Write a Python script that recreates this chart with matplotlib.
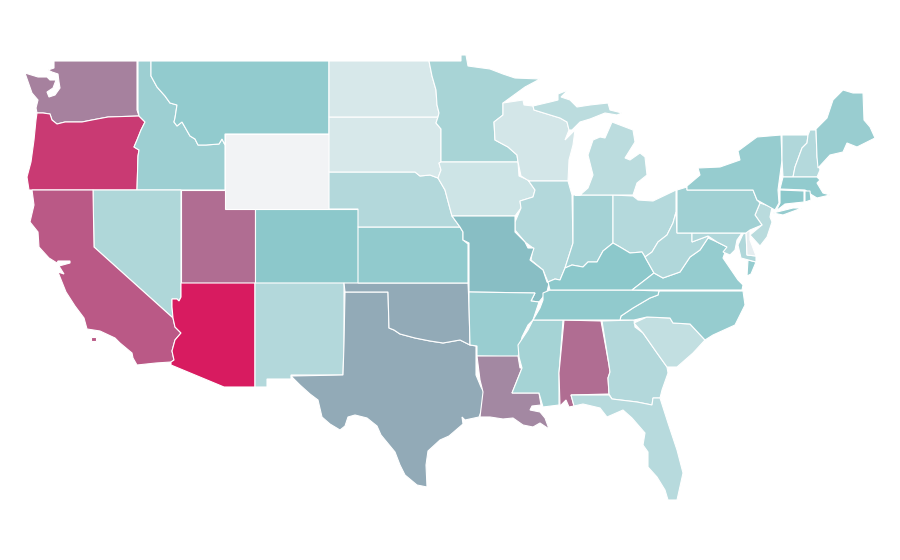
import matplotlib
matplotlib.use('Agg')
import matplotlib.pyplot as plt
from matplotlib.colors import LinearSegmentedColormap, Normalize
from matplotlib.patches import Polygon

# state outlines, in map units
WA = [(54,61),(137,61),(137,110),(139,116),(108,117),(92,120),(82,122),(65,122),(57,124),(52,120),(50,114),(43,113),(37,113),(36,108),(38,100),(32,93),(25,73),(38,77),(47,77),(50,80),(56,80),(53,88),(47,92),(49,97),(55,95),(60,88),(59,82),(58,74),(52,72),(48,70),(54,68)]
OR = [(37,113),(43,113),(50,114),(52,120),(57,124),(65,122),(82,122),(92,120),(108,117),(139,116),(145,122),(141,130),(137,140),(134,147),(139,150),(138,156),(137,190),(29,190),(27,177),(31,162),(34,140),(36,120)]
ID = [(138,61),(151,61),(151,76),(157,87),(165,96),(170,103),(177,105),(175,118),(174,122),(177,126),(182,122),(186,129),(190,136),(195,139),(198,145),(206,145),(219,144),(222,139),(225,145),(225,190),(137,190),(138,156),(139,150),(134,147),(137,140),(141,130),(145,122),(139,116),(138,110)]
MT = [(151,61),(329,61),(329,134),(225,134),(225,145),(222,139),(219,144),(206,145),(198,145),(195,139),(190,136),(186,129),(182,122),(177,126),(174,122),(175,118),(177,105),(170,103),(165,96),(157,87),(151,76)]
WY = [(225,134),(329,134),(329,209),(225,209)]
NV = [(93,190),(181,190),(181,297),(179,301),(177,299),(172,299),(172,307),(173,318),(94,247)]
CA = [(32,190),(93,190),(94,247),(173,318),(175,327),(181,333),(175,340),(172,351),(174,360),(171,362),(156,363),(137,365),(133,358),(132,353),(120,343),(115,338),(100,331),(87,329),(84,318),(75,306),(66,292),(58,272),(64,274),(59,266),(70,263),(70,261),(58,261),(57,263),(49,258),(39,247),(38,232),(30,222),(34,205)]
CA_ISLAND = [(91,337),(96,337),(96,341),(91,341)]
UT = [(181,190),(225,190),(225,209),(255,209),(255,283),(181,283)]
AZ = [(181,283),(255,283),(255,387),(224,387),(171,365),(171,362),(174,360),(172,351),(175,340),(181,333),(175,327),(173,318),(172,307),(172,299),(177,299),(179,301),(181,297)]
CO = [(255,209),(358,209),(358,283),(255,283)]
NM = [(255,283),(344,283),(344,344),(343,375),(291,375),(291,379),(267,379),(267,387),(255,387)]
TX = [(345,292),(388,292),(389,328),(394,330),(400,334),(415,338),(430,341),(443,343),(460,340),(470,345),(476,346),(476,375),(481,387),(484,392),(481,412),(479,417),(465,420),(462,417),(463,424),(449,436),(440,440),(428,451),(426,465),(427,487),(417,485),(405,475),(400,465),(395,452),(381,435),(377,426),(367,418),(355,415),(348,417),(345,426),(340,430),(330,424),(322,417),(318,400),(310,394),(300,385),(291,376),(343,375),(344,344)]
OK = [(344,283),(468,283),(469,305),(470,345),(460,340),(443,343),(430,341),(415,338),(400,334),(394,330),(389,328),(388,292),(345,292)]
KS = [(358,227),(460,227),(463,232),(463,240),(468,244),(468,283),(358,283)]
NE = [(329,172),(415,172),(420,176),(430,175),(438,178),(445,190),(449,205),(452,216),(460,227),(358,227),(358,209),(329,209)]
SD = [(329,117),(438,117),(436,123),(441,129),(441,162),(439,163),(441,170),(438,178),(430,175),(420,176),(415,172),(329,172)]
ND = [(329,61),(429,61),(432,76),(436,90),(437,105),(439,113),(438,117),(329,117)]
MN = [(429,61),(461,61),(461,55),(466,55),(468,66),(490,69),(503,74),(515,78),(540,79),(525,87),(503,103),(503,115),(494,122),(495,140),(508,147),(517,155),(518,162),(441,162),(441,129),(436,123),(438,117),(439,113),(437,105),(436,90),(432,76)]
IA = [(441,162),(518,162),(519,176),(528,180),(535,190),(533,197),(520,201),(521,208),(515,216),(452,216),(449,205),(445,190),(438,178),(441,170),(439,163)]
WI = [(503,103),(523,100),(524,105),(533,106),(534,110),(560,118),(567,122),(569,130),(565,140),(575,130),(573,145),(569,160),(568,181),(529,181),(521,176),(518,162),(517,155),(508,147),(495,140),(494,122),(503,115)]
IL = [(529,181),(568,181),(572,195),(573,243),(565,268),(560,280),(555,279),(548,282),(543,270),(531,260),(533,248),(525,242),(515,230),(515,222),(521,208),(520,201),(533,197),(535,190),(528,180)]
IN = [(573,195),(613,195),(613,243),(603,251),(597,262),(588,262),(583,267),(572,265),(565,268),(573,243)]
OH = [(613,195),(633,196),(638,200),(653,201),(676,190),(676,212),(673,223),(667,235),(658,242),(652,252),(645,257),(642,252),(630,253),(620,247),(613,243)]
MI = [(575,195),(633,195),(637,183),(647,175),(645,157),(640,153),(630,160),(625,158),(635,142),(633,130),(612,122),(605,138),(600,137),(593,140),(588,155),(593,175),(588,188),(580,195)]
MI_UPPER = [(533,106),(550,102),(558,100),(558,94),(568,90),(561,97),(570,100),(577,107),(590,105),(608,103),(610,110),(622,113),(617,115),(605,113),(590,119),(580,122),(572,130),(569,130),(567,122),(560,118),(534,110)]
MO = [(452,216),(515,216),(515,232),(525,242),(528,248),(534,248),(530,260),(543,270),(547,282),(549,283),(547,292),(539,302),(531,301),(535,293),(469,292),(469,243),(463,240),(463,232),(460,227)]
AR = [(469,292),(535,293),(531,301),(539,302),(533,320),(528,325),(522,337),(518,357),(477,356),(477,346),(470,345),(469,305)]
LA = [(477,356),(518,356),(520,368),(522,368),(512,393),(539,393),(541,405),(532,406),(530,410),(540,412),(545,418),(549,429),(540,423),(533,427),(523,425),(513,418),(503,419),(490,417),(480,417),(483,392),(480,380)]
MS = [(533,320),(563,320),(559,373),(559,405),(543,407),(539,393),(512,393),(522,368),(519,357),(518,345),(528,330)]
AL = [(564,320),(601,321),(609,365),(610,372),(608,378),(609,394),(571,395),(574,406),(569,407),(566,400),(560,406),(559,373)]
GA = [(602,321),(634,320),(635,327),(643,333),(657,353),(667,367),(668,373),(662,390),(660,398),(653,398),(652,405),(637,402),(612,399),(609,394),(608,378),(610,372),(609,365)]
FL = [(571,395),(609,395),(612,399),(637,402),(652,405),(653,398),(660,398),(668,423),(677,450),(683,473),(677,500),(668,500),(665,490),(657,477),(648,467),(648,452),(643,445),(645,433),(632,418),(623,410),(607,417),(600,408),(583,404),(574,406)]
SC = [(634,323),(647,317),(670,318),(673,323),(690,324),(705,340),(693,353),(677,367),(667,367),(657,353),(643,333)]
NC = [(659,291),(743,291),(745,305),(735,325),(713,335),(705,340),(690,324),(673,323),(670,318),(647,317),(634,320),(620,320),(621,316),(633,308),(650,298),(658,295)]
TN = [(543,293),(550,290),(632,290),(659,291),(658,295),(650,298),(633,308),(621,316),(620,320),(533,320),(540,308),(543,300)]
KY = [(632,290),(645,280),(654,273),(645,257),(642,252),(630,253),(620,247),(613,243),(603,251),(597,262),(588,262),(583,267),(572,265),(565,268),(560,280),(555,279),(548,282),(550,290)]
VA = [(632,290),(742,290),(743,285),(738,280),(723,258),(727,247),(717,242),(708,238),(700,250),(690,257),(680,272),(663,278),(654,273),(645,280)]
VA_EAST = [(748,260),(756,262),(751,274),(747,276)]
WV = [(676,212),(677,233),(692,233),(692,242),(708,236),(708,238),(700,250),(690,257),(680,272),(663,278),(654,273),(645,257),(652,252),(658,242),(667,235),(673,223)]
MD = [(692,233),(742,233),(737,240),(735,250),(730,255),(723,252),(727,247),(717,242),(708,236),(692,242)]
MD_EAST = [(743,234),(746,233),(747,255),(756,256),(756,262),(741,258),(738,245)]
DE = [(746,231),(750,231),(750,240),(756,256),(747,255)]
NJ = [(760,203),(772,207),(770,217),(772,222),(767,237),(760,246),(750,235),(762,225),(755,215)]
PA = [(677,190),(687,187),(687,190),(753,190),(757,200),(760,203),(755,215),(762,225),(750,230),(746,233),(677,233)]
NY = [(687,186),(700,175),(698,168),(720,167),(740,160),(738,151),(757,137),(781,135),(782,160),(778,190),(779,203),(775,210),(757,200),(753,190),(687,190)]
NY_LONG_ISLAND = [(773,213),(793,208),(802,208),(783,215)]
VT = [(782,135),(808,135),(807,143),(802,148),(795,167),(793,177),(783,177),(782,160)]
NH = [(810,130),(816,130),(817,157),(820,170),(817,177),(793,177),(795,167),(802,148),(807,143),(808,135)]
ME = [(816,129),(827,118),(833,100),(843,90),(853,93),(863,93),(864,120),(870,127),(875,138),(857,147),(847,143),(843,152),(830,155),(818,168),(817,157)]
MA = [(783,177),(817,177),(820,180),(817,183),(823,193),(830,195),(817,198),(812,195),(805,190),(780,189)]
CT = [(780,190),(804,191),(804,202),(785,204),(776,211),(780,203)]
RI = [(805,191),(810,191),(811,200),(805,202)]

state_shapes = [[WA],[OR],[ID],[MT],[WY],[NV],[CA,CA_ISLAND],[UT],[AZ],[CO],[NM],[TX],[OK],[KS],[NE],[SD],[ND],[MN],[IA],[WI],[IL],[IN],[OH],[MI,MI_UPPER],[MO],[AR],[LA],[MS],[AL],[GA],[FL],[SC],[NC],[TN],[KY],[VA,VA_EAST],[WV],[MD,MD_EAST],[DE],[NJ],[PA],[NY,NY_LONG_ISLAND],[VT],[NH],[ME],[MA],[CT],[RI]]
state_values = [70,91,40,45,0,32,82,76,100,48,30,58,58,46,30,12.7,12.7,35,17.4,14.6,30,37,29,26,52,42,68,36,76,30,28,23,43,46,48,44,31,31,6.6,27,39,43,31,29,42,45,48,45]

# grey at the bottom, teal in the middle, pink at the top
cmap = LinearSegmentedColormap.from_list('states', [(0, '#f2f3f5'), (0.48, '#8cc8cb'), (0.52, '#88bfc4'), (1, '#d81b60')])
norm = Normalize(0, 100)

fig = plt.figure(figsize=(9, 5.6), dpi=100)
ax = fig.add_axes([0, 0, 1, 1])

for rings, value in zip(state_shapes, state_values):
    for ring in rings:
        ax.add_patch(Polygon(ring, closed=True, facecolor=cmap(norm(value)), edgecolor='white', linewidth=0.8))

ax.set_xlim(0, 900)
ax.set_ylim(560, 0)
ax.axis('off')

fig.savefig('out.png', dpi=100, facecolor='white')
